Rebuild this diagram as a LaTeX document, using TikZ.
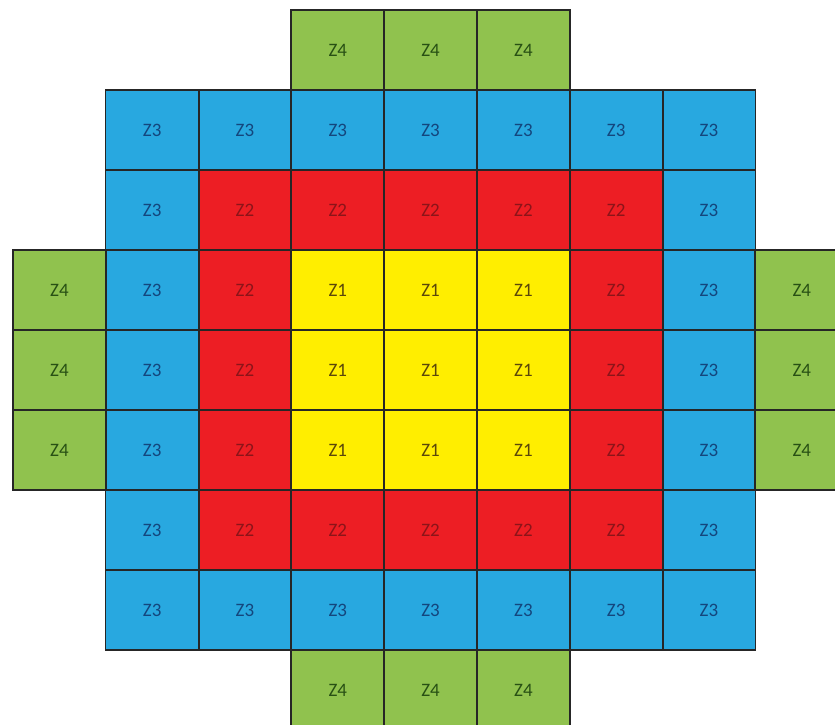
\documentclass[tikz,border=0pt]{standalone}
\usepackage{fontspec}
\setmainfont{Carlito}
\usepackage{tikz}

% zone colours (fill / label)
\definecolor{zc1}{RGB}{255,238,0}
\definecolor{zc2}{RGB}{237,30,36}
\definecolor{zc3}{RGB}{40,168,224}
\definecolor{zc4}{RGB}{144,194,78}
\definecolor{zt1}{RGB}{90,70,10}
\definecolor{zt2}{RGB}{140,20,25}
\definecolor{zt3}{RGB}{20,70,125}
\definecolor{zt4}{RGB}{40,80,20}

% core layout, row by row (0 = no assembly)
\newcommand{\corelayout}{1/{0,0,0,4,4,4,0,0,0},
                         2/{0,3,3,3,3,3,3,3,0},
                         3/{0,3,2,2,2,2,2,3,0},
                         4/{4,3,2,1,1,1,2,3,4},
                         5/{4,3,2,1,1,1,2,3,4},
                         6/{4,3,2,1,1,1,2,3,4},
                         7/{0,3,2,2,2,2,2,3,0},
                         8/{0,3,3,3,3,3,3,3,0},
                         9/{0,0,0,4,4,4,0,0,0}}

\tikzset{
  cell/.style={fill=zc#1, text=zt#1,
    minimum width=92.8pt, minimum height=80pt, inner sep=0pt,
    font=\fontsize{19}{22}\selectfont},
  cellborder/.style={draw=black!85, line width=1.5pt}
}

\begin{document}
\begin{tikzpicture}[x=1pt,y=-1pt]
    \useasboundingbox (0,0) rectangle (835,725);

    % Assemblies
    \foreach \r/\line in \corelayout
      \foreach \z [count=\c] in \line {
        \ifnum\z>0
          \node[cell=\z] (c\r-\c) at ({13+92.8*(\c-0.5)},{10+80*(\r-0.5)}) {Z\z};
        \fi
      };

    % Borders on top
    \foreach \r/\line in \corelayout
      \foreach \z [count=\c] in \line {
        \ifnum\z>0
          \draw[cellborder] (c\r-\c.south west) rectangle (c\r-\c.north east);
        \fi
      };
  \end{tikzpicture}
\end{document}
